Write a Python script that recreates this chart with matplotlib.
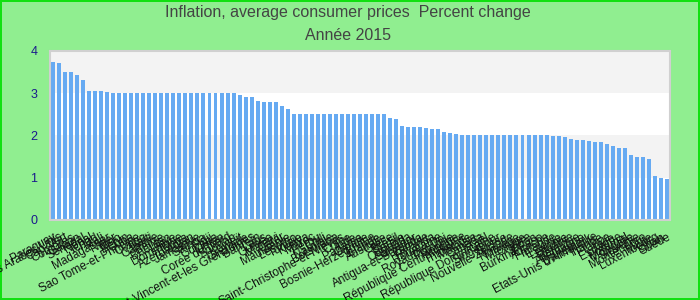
import matplotlib
matplotlib.use("Agg")
import matplotlib.pyplot as plt
import numpy as np

plt.rcParams['font.family'] = ['Liberation Sans', 'DejaVu Sans']

# inflation 2015, sorted descending
countries = [
    "Paraguay", "Emirats Arabes Unis", "Cap-Vert", "Comores", "Gabon",
    "Sénégal", "Népal", "Tchad", "Mali", "Madagascar",
    "Niger", "Togo", "Bénin", "Cuba", "Sao Tome-et-Principe",
    "Congo", "Haïti", "Gambie", "Belize", "Bhoutan",
    "Libye", "Dominique", "Tonga", "Azerbaïdjan", "Jamaïque",
    "Samoa", "Fidji", "Guyana", "Oman", "Corée du Nord",
    "Soudan", "Koweït", "Grenade", "Saint-Vincent-et-les Grenadines", "Bahreïn",
    "Laos", "Guinée", "Malawi", "Qatar", "Mauritanie",
    "Lesotho", "Tunisie", "Kenya", "Maroc", "Pérou",
    "Chili", "Namibie", "Botswana", "Saint-Christophe-et-Niévès", "Chine",
    "Inde", "Panama", "Croatie", "Bosnie-Herzégovine", "Islande",
    "Australie", "Grèce", "Brésil", "Serbie", "Ouganda",
    "Salvador", "Antigua-et-Barbuda", "Zambie", "Rwanda", "Roumanie",
    "Royaume-Uni", "Pologne", "Hongrie", "République Centrafricaine", "Thaïlande",
    "Malaisie", "Canada", "Israël", "République Dominicaine", "Singapour",
    "Suisse", "Nouvelle-Zélande", "Norvège", "Mexique", "Chypre",
    "Japon", "Burkina Faso", "Autriche", "Finlande", "Estonie",
    "Lettonie", "Lituanie", "Belgique", "Allemagne", "Danemark",
    "Etats-Unis d'Amérique", "Irlande", "France", "Italie", "Espagne",
    "Portugal", "Mongolie", "Slovénie", "Monténégro", "Malte",
    "Luxembourg", "Liban", "Suède",
]

values = (
    [3.75, 3.72, 3.5, 3.5, 3.43, 3.32, 3.06, 3.06, 3.06, 3.04]
    + [3.0] * 21
    + [2.96, 2.91, 2.91, 2.82, 2.79, 2.79, 2.79, 2.70, 2.63]
    + [2.5] * 16
    + [2.41, 2.39, 2.22, 2.2, 2.2, 2.2, 2.18, 2.15, 2.15, 2.08, 2.06, 2.04]
    + [2.0] * 15
    + [1.99, 1.99, 1.96, 1.92, 1.89, 1.89, 1.87, 1.85, 1.85, 1.80, 1.75,
       1.70, 1.70, 1.54, 1.49, 1.49, 1.44, 1.04, 0.99, 0.97]
)

bands = [(0, 1, 'white'), (1, 2, '#f3f3f3'), (2, 3, 'white'), (3, 4, '#f3f3f3')]

fig = plt.figure(figsize=(7, 3), dpi=100, facecolor='#90ee90',
                 edgecolor='#11e011', linewidth=1.5)
ax = fig.add_axes([0.0714, 0.2667, 0.8857, 0.5633])

for lo, hi, col in bands:
    ax.axhspan(lo, hi, color=col, zorder=0, lw=0)

x = np.arange(len(values))
ax.bar(x, values, width=0.66, color='#66aaf2', zorder=2)

ax.set_xlim(-0.5, len(values) - 0.5)
ax.set_ylim(0, 4)
ax.set_yticks([0, 1, 2, 3, 4])
ax.tick_params(axis='y', length=0, pad=9, labelsize=9, labelcolor='#1a1a8c')
ax.set_xticks(x)
ax.set_xticklabels(countries, rotation=28, ha='right', rotation_mode='anchor',
                   fontsize=8.5, color='#111111')
ax.tick_params(axis='x', length=0, pad=8)

for s in ax.spines.values():
    s.set_color('#d0d0d0')
    s.set_linewidth(1.5)

fig.text(0.497, 0.958, "Inflation, average consumer prices  Percent change",
         ha='center', va='center', fontsize=11.5, color='#444444')
fig.text(0.497, 0.88, "Année 2015", ha='center', va='center',
         fontsize=11.5, color='#444444')

fig.savefig("out.png", dpi=100, facecolor=fig.get_facecolor(),
            edgecolor=fig.get_edgecolor())
